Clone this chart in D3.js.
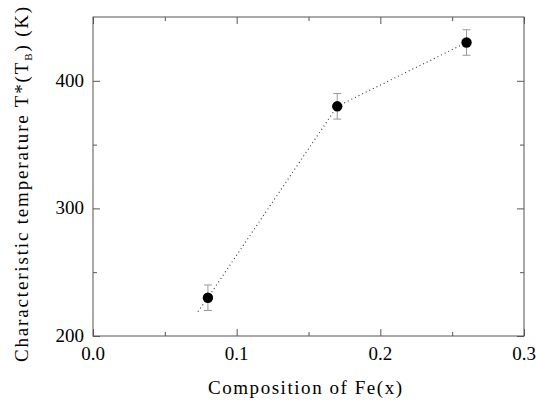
<!DOCTYPE html>
<html>
<head>
<meta charset="utf-8">
<script src="https://cdn.jsdelivr.net/npm/d3@7"></script>
<style>
  html, body { margin: 0; padding: 0; background: #fff; }
  svg { display: block; }
</style>
</head>
<body>
<svg id="chart" width="536" height="400"></svg>
<script>
// Fe content and characteristic temperature T*(T_B)
const composition = [0.08, 0.17, 0.26];
const temperature = [230, 380, 430];
const tempError   = [10, 10, 10];

// guide line drawn through the measurements (starts slightly below the first one)
const guideX = [0.073, 0.08, 0.17, 0.26];
const guideY = [219, 230, 380, 430];

const xMajor = [0.0, 0.1, 0.2, 0.3];
const xMinor = [0.05, 0.15, 0.25];
const yMajor = [200, 300, 400];
const yMinor = [250, 350];

const width = 536, height = 400;
const margin = { left: 93, right: 12, top: 17, bottom: 64 };
const FONT = "'Liberation Serif', serif";

const svg = d3.select("#chart");

const x = d3.scaleLinear().domain([0, 0.3]).range([margin.left, width - margin.right]);
const y = d3.scaleLinear().domain([200, 450]).range([height - margin.bottom, margin.top]);

const frameColor = "#555";
const majorLen = 7, minorLen = 4;

// plot frame
svg.append("rect")
  .attr("x", x(0)).attr("y", y(450))
  .attr("width", x(0.3) - x(0)).attr("height", y(200) - y(450))
  .attr("fill", "none").attr("stroke", frameColor).attr("stroke-width", 1);

// inward ticks on all four sides
function ticks(g, scale, axisFn, values, len, pos) {
  g.append("g")
    .attr("transform", pos)
    .call(axisFn(scale).tickValues(values).tickSize(len).tickFormat(""))
    .call(s => s.select(".domain").remove())
    .selectAll("line").attr("stroke", frameColor);
}
const tk = svg.append("g");
ticks(tk, x, d3.axisTop, xMajor, majorLen, `translate(0,${y(200)})`);
ticks(tk, x, d3.axisTop, xMinor, minorLen, `translate(0,${y(200)})`);
ticks(tk, x, d3.axisBottom, xMajor, majorLen, `translate(0,${y(450)})`);
ticks(tk, x, d3.axisBottom, xMinor, minorLen, `translate(0,${y(450)})`);
ticks(tk, y, d3.axisRight, yMajor, majorLen, `translate(${x(0)},0)`);
ticks(tk, y, d3.axisRight, yMinor, minorLen, `translate(${x(0)},0)`);
ticks(tk, y, d3.axisLeft, yMajor, majorLen, `translate(${x(0.3)},0)`);
ticks(tk, y, d3.axisLeft, yMinor, minorLen, `translate(${x(0.3)},0)`);

// tick labels
svg.append("g").selectAll("text").data(xMajor).join("text")
  .attr("x", d => x(d)).attr("y", y(200) + 24)
  .attr("text-anchor", "middle")
  .attr("font-family", FONT).attr("font-size", 19)
  .text(d => d.toFixed(1));

svg.append("g").selectAll("text").data(yMajor).join("text")
  .attr("x", x(0) - 9).attr("y", d => y(d) + 6)
  .attr("text-anchor", "end")
  .attr("font-family", FONT).attr("font-size", 19)
  .text(d => d);

// axis titles
svg.append("text")
  .attr("x", 208).attr("y", 394)
  .attr("font-family", FONT).attr("font-size", 19)
  .attr("textLength", 194).attr("lengthAdjust", "spacing")
  .text("Composition of Fe(x)");

const yt = svg.append("text")
  .attr("transform", "translate(28,362) rotate(-90)")
  .attr("font-family", FONT).attr("font-size", 19);
yt.append("tspan").text("Characteristic temperature T*(T");
yt.append("tspan").attr("font-size", 11).attr("dy", 4).text("B");
yt.append("tspan").attr("dy", -4).text(") (K)");
// spread the title over its full height
const yLen = 357;
const natural = yt.node().getComputedTextLength();
if (natural > 0) {
  yt.selectAll("tspan").attr("letter-spacing", (yLen - natural) / 37);
}

// dotted guide line
const line = d3.line().x(d => x(d[0])).y(d => y(d[1]));
svg.append("path")
  .datum(d3.zip(guideX, guideY))
  .attr("d", line)
  .attr("fill", "none").attr("stroke", "#333")
  .attr("stroke-width", 1.1).attr("stroke-dasharray", "1,3");

// error bars
const eb = svg.append("g").attr("stroke", "#999").attr("stroke-width", 1);
composition.forEach((c, i) => {
  const cx = x(c), lo = y(temperature[i] - tempError[i]), hi = y(temperature[i] + tempError[i]);
  eb.append("line").attr("x1", cx).attr("x2", cx).attr("y1", lo).attr("y2", hi);
  eb.append("line").attr("x1", cx - 4).attr("x2", cx + 4).attr("y1", lo).attr("y2", lo);
  eb.append("line").attr("x1", cx - 4).attr("x2", cx + 4).attr("y1", hi).attr("y2", hi);
});

// measured points
svg.append("g").selectAll("circle").data(composition).join("circle")
  .attr("cx", d => x(d)).attr("cy", (d, i) => y(temperature[i]))
  .attr("r", 5.2).attr("fill", "#000");
</script>
</body>
</html>
